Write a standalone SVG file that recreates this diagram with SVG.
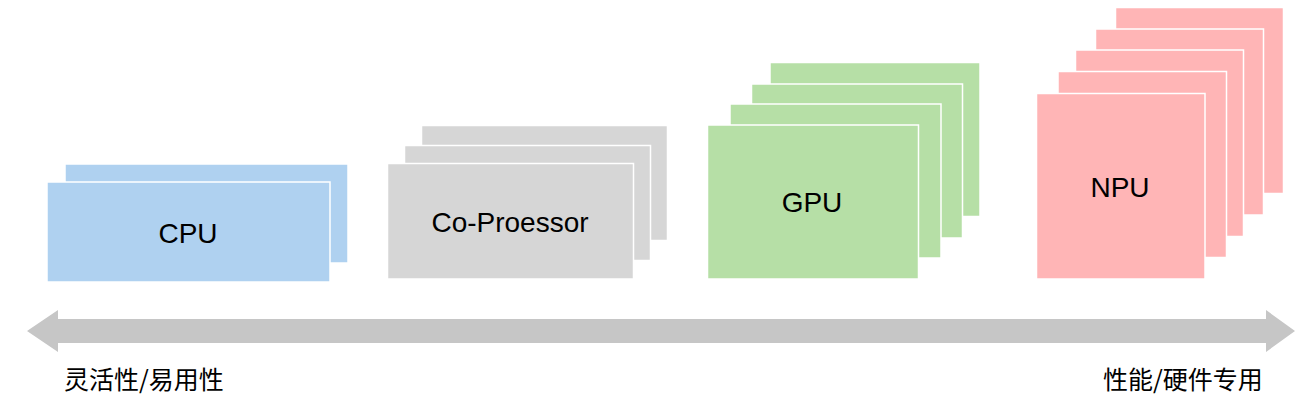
<svg xmlns="http://www.w3.org/2000/svg" width="1310" height="407" viewBox="0 0 1310 407">
<style>
rect { stroke: #ffffff; stroke-width: 1.5; }
.cpu { fill: #afd1f0; }
.cop { fill: #d6d6d6; }
.gpu { fill: #b6dfa6; }
.npu { fill: #ffb5b6; }
.lbl { font-family: "Liberation Sans", Arial, sans-serif; font-size: 28px; fill: #000; text-anchor: middle; }
.cap { font-family: "Noto Sans CJK SC", "Noto Sans", sans-serif; font-size: 25px; fill: #000; }
</style>
<rect width="1310" height="407" fill="#ffffff" stroke="none"/>
<g id="connectors">
<polygon points="27,331 58,310 58,319 1266,319 1266,310 1295,331 1266,352 1266,343 58,343 58,352" fill="#c6c6c6"/>
</g>
<g id="cpu">
<rect class="cpu" x="65" y="164" width="283" height="99"/>
<rect class="cpu" x="47" y="182" width="283" height="100"/>
<text class="lbl" x="188" y="243">CPU</text>
</g>
<g id="coprocessor">
<rect class="cop" x="421.5" y="125.5" width="246" height="115"/>
<rect class="cop" x="404.5" y="145.5" width="246" height="115"/>
<rect class="cop" x="387.5" y="163.5" width="246" height="115.5"/>
<text class="lbl" x="510" y="232">Co-Proessor</text>
</g>
<g id="gpu">
<rect class="gpu" x="770" y="62.5" width="210" height="154"/>
<rect class="gpu" x="751.5" y="84" width="211" height="154"/>
<rect class="gpu" x="730" y="104" width="211" height="154"/>
<rect class="gpu" x="707.5" y="125" width="211" height="154"/>
<text class="lbl" x="812" y="212">GPU</text>
</g>
<g id="npu">
<rect class="npu" x="1115.5" y="7.5" width="168" height="186"/>
<rect class="npu" x="1095.5" y="29" width="168" height="186"/>
<rect class="npu" x="1075.5" y="50" width="168" height="186.5"/>
<rect class="npu" x="1058" y="71.5" width="168.5" height="186"/>
<rect class="npu" x="1036.5" y="93.5" width="168.5" height="185.5"/>
<text class="lbl" x="1120" y="197">NPU</text>
</g>
<g id="labels">
<text class="cap" x="64" y="389">灵活性/易用性</text>
<text class="cap" x="1103" y="389">性能/硬件专用</text>
</g>
</svg>
